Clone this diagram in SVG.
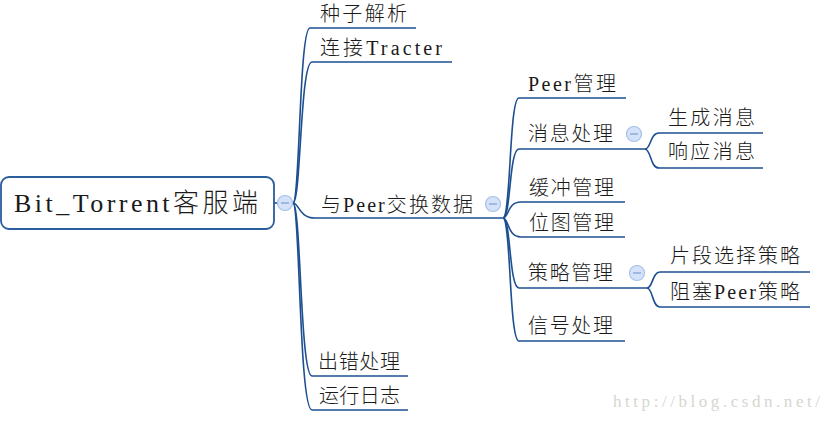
<svg xmlns="http://www.w3.org/2000/svg" width="834" height="422" viewBox="0 0 834 422">
<style>
.t{font-family:"Liberation Serif","Noto Sans CJK SC",serif;font-size:20px;font-weight:300;fill:#1a1a1a}
.root{font-size:26px}
.u{stroke:#1d4f91;stroke-width:1.6;fill:none}
.c{stroke:#1d4f91;stroke-width:1.6;fill:none}
.col circle{fill:#d3e2f8;stroke:#a6c0ea;stroke-width:1.2}
.col line{stroke:#8aa6d6;stroke-width:1.4}
.wm{font-family:"Liberation Serif",serif;font-size:17px;fill:#d6d6d0}
</style>
<rect width="834" height="422" fill="#fff"/>
<g id="connectors">
<path class="c" d="M274,203 H293"/>
<path class="c" d="M293,203 C300,203 299,28 310,28"/>
<path class="c" d="M293,203 C301,203 300,62 312,62"/>
<path class="c" d="M293,203 C299,203 299,218 315,218"/>
<path class="c" d="M293,203 C301,203 300,376 312,376"/>
<path class="c" d="M293,203 C300,203 299,410 312,410"/>
<path class="c" d="M503,218 C511,218 509,98 519,98"/>
<path class="c" d="M503,218 C511,218 509,149 519,149"/>
<path class="c" d="M503,218 C509,218 507,202 521,202"/>
<path class="c" d="M503,218 C509,218 507,237 521,237"/>
<path class="c" d="M503,218 C511,218 509,288 519,288"/>
<path class="c" d="M503,218 C511,218 509,341 519,341"/>
<path class="c" d="M645,149 C651,149 650,133 659,133"/>
<path class="c" d="M645,149 C651,149 650,168 659,168"/>
<path class="c" d="M647,288 C653,288 652,272 660,272"/>
<path class="c" d="M647,288 C653,288 652,307 660,307"/>
</g>
<g id="root">
<rect x="1" y="177" width="273" height="52" rx="8" fill="#fff" stroke="#2b5c9c" stroke-width="1.8"/>
<text class="t root" x="14" y="212" textLength="244" lengthAdjust="spacing">Bit_Torrent客服端</text>
</g>
<g id="root-collapse" class="col"><circle cx="285" cy="203" r="7.5"/><line x1="281" y1="203" x2="289" y2="203"/></g>
<g id="n-seed"><line class="u" x1="310" y1="28" x2="416" y2="28"/><text class="t" x="320" y="21" textLength="87" lengthAdjust="spacing">种子解析</text></g>
<g id="n-tracker"><line class="u" x1="312" y1="62" x2="452" y2="62"/><text class="t" x="320" y="55" textLength="122" lengthAdjust="spacing">连接Tracter</text></g>
<g id="n-peer"><line class="u" x1="315" y1="218" x2="503" y2="218"/><text class="t" x="321" y="212" textLength="152" lengthAdjust="spacing">与Peer交换数据</text></g>
<g id="n-peer-collapse" class="col"><circle cx="493" cy="204" r="7.5"/><line x1="489" y1="204" x2="497" y2="204"/></g>
<g id="n-error"><line class="u" x1="312" y1="376" x2="408" y2="376"/><text class="t" x="318" y="369" textLength="82" lengthAdjust="spacing">出错处理</text></g>
<g id="n-log"><line class="u" x1="312" y1="410" x2="408" y2="410"/><text class="t" x="319" y="403" textLength="81" lengthAdjust="spacing">运行日志</text></g>
<g id="n-peermgr"><line class="u" x1="519" y1="98" x2="626" y2="98"/><text class="t" x="528" y="91" textLength="88" lengthAdjust="spacing">Peer管理</text></g>
<g id="n-msg"><line class="u" x1="519" y1="149" x2="645" y2="149"/><text class="t" x="528" y="141" textLength="85" lengthAdjust="spacing">消息处理</text></g>
<g id="n-msg-collapse" class="col"><circle cx="634" cy="134" r="7.5"/><line x1="630" y1="134" x2="638" y2="134"/></g>
<g id="n-gen"><line class="u" x1="659" y1="133" x2="763" y2="133"/><text class="t" x="668" y="125" textLength="87" lengthAdjust="spacing">生成消息</text></g>
<g id="n-resp"><line class="u" x1="659" y1="168" x2="763" y2="168"/><text class="t" x="668" y="159" textLength="87" lengthAdjust="spacing">响应消息</text></g>
<g id="n-buf"><line class="u" x1="521" y1="202" x2="625" y2="202"/><text class="t" x="529" y="195" textLength="85" lengthAdjust="spacing">缓冲管理</text></g>
<g id="n-bitmap"><line class="u" x1="521" y1="237" x2="625" y2="237"/><text class="t" x="529" y="230" textLength="85" lengthAdjust="spacing">位图管理</text></g>
<g id="n-policy"><line class="u" x1="519" y1="288" x2="647" y2="288"/><text class="t" x="528" y="280" textLength="85" lengthAdjust="spacing">策略管理</text></g>
<g id="n-policy-collapse" class="col"><circle cx="637" cy="273" r="7.5"/><line x1="633" y1="273" x2="641" y2="273"/></g>
<g id="n-piece"><line class="u" x1="660" y1="272" x2="810" y2="272"/><text class="t" x="670" y="263" textLength="130" lengthAdjust="spacing">片段选择策略</text></g>
<g id="n-choke"><line class="u" x1="660" y1="307" x2="810" y2="307"/><text class="t" x="670" y="299" textLength="130" lengthAdjust="spacing">阻塞Peer策略</text></g>
<g id="n-signal"><line class="u" x1="519" y1="341" x2="625" y2="341"/><text class="t" x="528" y="333" textLength="85" lengthAdjust="spacing">信号处理</text></g>
<text class="wm" x="613" y="407" textLength="207" lengthAdjust="spacing">http://blog.csdn.net/</text>
</svg>
